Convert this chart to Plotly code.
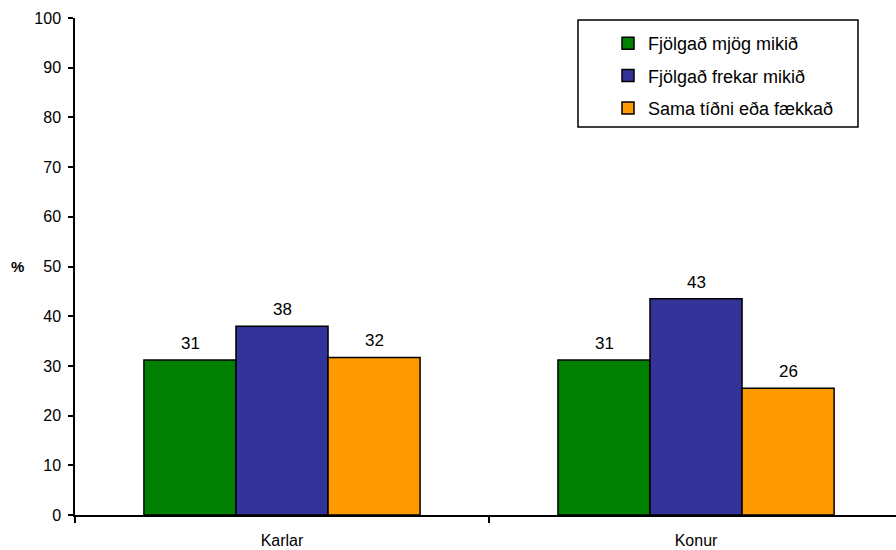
import plotly.graph_objects as go

categories = ["Karlar", "Konur"]
series_names = ["Fjölgað mjög mikið", "Fjölgað frekar mikið", "Sama tíðni eða fækkað"]
green_vals = [31.2, 31.2]
blue_vals = [38.0, 43.5]
orange_vals = [31.7, 25.5]
green_labels = ["31", "31"]
blue_labels = ["38", "43"]
orange_labels = ["32", "26"]
y_ticks = [0, 10, 20, 30, 40, 50, 60, 70, 80, 90, 100]

colors = ["#008000", "#333399", "#FF9900"]
font = "Liberation Sans, Arial, sans-serif"
bar_px = 92  # pixel width of one bar, for label offsets

PL, PT, PB = 75, 18, 515  # screen positions of plot area (left, top, bottom)
PW = 896 - PL
PH = PB - PT


def px_x(sx):
    return (sx - PL) / PW


def px_y(sy):
    return (PB - sy) / PH


fig = go.Figure()
annotations = []
all_vals = [green_vals, blue_vals, orange_vals]
all_labels = [green_labels, blue_labels, orange_labels]
for i, (name, vals, labs) in enumerate(zip(series_names, all_vals, all_labels)):
    fig.add_trace(go.Bar(
        x=categories, y=vals, name=name,
        marker=dict(color=colors[i], line=dict(color="black", width=1.5)),
        legendgroup=f"g{i}",
    ))
    for c, v, t in zip(categories, vals, labs):
        annotations.append(dict(
            x=c, y=v, xref="x", yref="y", text=t, showarrow=False,
            xanchor="center", yanchor="bottom", xshift=(i - 1) * bar_px, yshift=5,
            font=dict(family=font, size=17, color="black"),
        ))

annotations.append(dict(
    text="<b>%</b>", x=px_x(18), y=50, xref="x domain", yref="y", showarrow=False,
    font=dict(family=font, size=15, color="black"), xanchor="center", yanchor="middle",
))

fig.update_layout(
    width=896, height=550,
    margin=dict(l=PL, r=0, t=PT, b=550 - PB),
    plot_bgcolor="white", paper_bgcolor="white",
    barmode="group", bargap=0.333, bargroupgap=0,
    font=dict(family=font, size=16, color="black"),
    showlegend=True,
    legend=dict(
        x=px_x(608), y=px_y(25), xanchor="left", yanchor="top",
        borderwidth=0, bgcolor="rgba(0,0,0,0)",
        font=dict(family=font, size=18, color="black"),
        tracegroupgap=6, itemwidth=30,
    ),
    shapes=[dict(
        type="rect", xref="paper", yref="paper",
        x0=px_x(578), x1=px_x(858), y0=px_y(127), y1=px_y(20),
        line=dict(color="black", width=1.5), fillcolor="rgba(0,0,0,0)",
    )],
    xaxis=dict(
        range=[-0.5, 1.483], automargin=False,
        showline=True, linecolor="black", linewidth=1.5,
        ticks="outside", tickson="boundaries", ticklen=6, tickcolor="black", tickwidth=1.5,
        tickfont=dict(size=16), showgrid=False, ticklabelstandoff=10,
    ),
    yaxis=dict(
        range=[0, 100], tickvals=y_ticks, automargin=False,
        showline=True, linecolor="black", linewidth=1.5,
        ticks="outside", ticklen=5, tickcolor="black", tickwidth=1.5,
        showgrid=False, zeroline=False, tickfont=dict(size=16), ticklabelstandoff=4,
    ),
    annotations=annotations,
)
fig.write_html(
    "out.html",
    config={"displayModeBar": False},
    post_script="document.body.style.margin='0';document.body.style.overflow='hidden';",
)
